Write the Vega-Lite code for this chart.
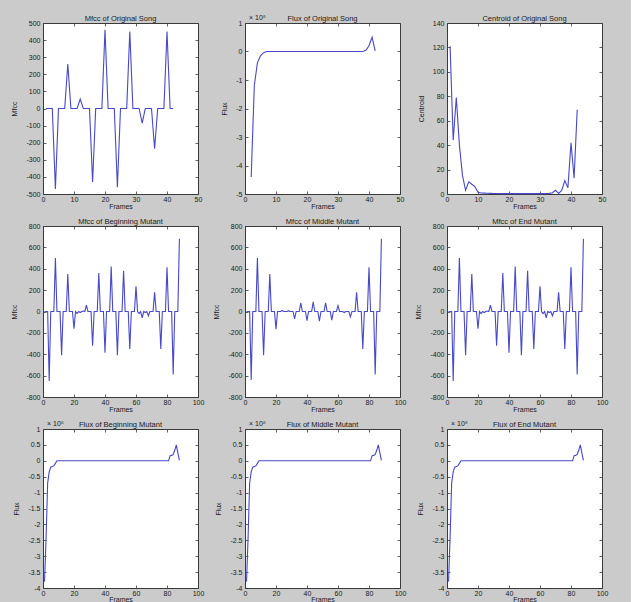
{
  "$schema": "https://vega.github.io/schema/vega-lite/v6.json",
  "background": "#cbcbcb",
  "padding": {"left": 10, "top": 13, "right": 22, "bottom": 0},
  "bounds": "flush",
  "columns": 3,
  "spacing": {"row": 32, "column": 47},
  "datasets": {
    "mfcc_orig": [
      {"f":1,"v":0},{"f":2,"v":0},{"f":3,"v":0},{"f":4,"v":-470},{"f":5,"v":0},{"f":6,"v":0},{"f":7,"v":0},{"f":8,"v":260},{"f":9,"v":0},{"f":10,"v":0},
      {"f":11,"v":0},{"f":12,"v":55},{"f":13,"v":0},{"f":14,"v":0},{"f":15,"v":0},{"f":16,"v":-430},{"f":17,"v":0},{"f":18,"v":0},{"f":19,"v":0},{"f":20,"v":460},
      {"f":21,"v":0},{"f":22,"v":0},{"f":23,"v":0},{"f":24,"v":-460},{"f":25,"v":0},{"f":26,"v":0},{"f":27,"v":0},{"f":28,"v":450},{"f":29,"v":0},{"f":30,"v":0},
      {"f":31,"v":0},{"f":32,"v":-85},{"f":33,"v":0},{"f":34,"v":0},{"f":35,"v":0},{"f":36,"v":-235},{"f":37,"v":0},{"f":38,"v":0},{"f":39,"v":0},{"f":40,"v":450},
      {"f":41,"v":0},{"f":42,"v":0}
    ],
    "flux_orig": [
      {"f":2,"v":-4.4},{"f":3,"v":-1.2},{"f":4,"v":-0.4},{"f":5,"v":-0.15},{"f":6,"v":-0.04},{"f":7,"v":0},{"f":8,"v":0},{"f":9,"v":0},{"f":10,"v":0},
      {"f":11,"v":0},{"f":12,"v":0},{"f":13,"v":0},{"f":14,"v":0},{"f":15,"v":0},{"f":16,"v":0},{"f":17,"v":0},{"f":18,"v":0},{"f":19,"v":0},{"f":20,"v":0},
      {"f":21,"v":0},{"f":22,"v":0},{"f":23,"v":0},{"f":24,"v":0},{"f":25,"v":0},{"f":26,"v":0},{"f":27,"v":0},{"f":28,"v":0},{"f":29,"v":0},{"f":30,"v":0},
      {"f":31,"v":0},{"f":32,"v":0},{"f":33,"v":0},{"f":34,"v":0},{"f":35,"v":0},{"f":36,"v":0},{"f":37,"v":0},{"f":38,"v":0},{"f":39,"v":0.04},{"f":40,"v":0.2},
      {"f":41,"v":0.5},{"f":42,"v":0.02}
    ],
    "cent_orig": [
      {"f":1,"v":121},{"f":2,"v":44},{"f":3,"v":79},{"f":4,"v":40},{"f":5,"v":15},{"f":6,"v":3},{"f":7,"v":10},{"f":8,"v":8},{"f":9,"v":6},{"f":10,"v":1.5},
      {"f":11,"v":0.8},{"f":12,"v":0.7},{"f":13,"v":0.6},{"f":14,"v":0.5},{"f":15,"v":0.4},{"f":16,"v":0.4},{"f":17,"v":0.3},{"f":18,"v":0.3},{"f":19,"v":0.3},{"f":20,"v":0.3},
      {"f":21,"v":0.3},{"f":22,"v":0.3},{"f":23,"v":0.3},{"f":24,"v":0.3},{"f":25,"v":0.3},{"f":26,"v":0.3},{"f":27,"v":0.3},{"f":28,"v":0.3},{"f":29,"v":0.3},{"f":30,"v":0.3},
      {"f":31,"v":0.3},{"f":32,"v":0.4},{"f":33,"v":0.5},{"f":34,"v":1},{"f":35,"v":3},{"f":36,"v":0.5},{"f":37,"v":3},{"f":38,"v":11},{"f":39,"v":5},{"f":40,"v":42},
      {"f":41,"v":13},{"f":42,"v":69}
    ],
    "mfcc_begin": [
      {"f":1,"v":0},{"f":2,"v":0},{"f":3,"v":0},{"f":4,"v":-650},{"f":5,"v":0},{"f":6,"v":0},{"f":7,"v":0},{"f":8,"v":500},{"f":9,"v":0},{"f":10,"v":0},
      {"f":11,"v":0},{"f":12,"v":-410},{"f":13,"v":0},{"f":14,"v":0},{"f":15,"v":0},{"f":16,"v":350},{"f":17,"v":0},{"f":18,"v":0},{"f":19,"v":0},{"f":20,"v":-160},
      {"f":21,"v":0},{"f":22,"v":-20},{"f":23,"v":0},{"f":24,"v":-10},{"f":25,"v":0},{"f":26,"v":5},{"f":27,"v":0},{"f":28,"v":60},{"f":29,"v":0},{"f":30,"v":0},
      {"f":31,"v":0},{"f":32,"v":-320},{"f":33,"v":0},{"f":34,"v":0},{"f":35,"v":0},{"f":36,"v":360},{"f":37,"v":0},{"f":38,"v":0},{"f":39,"v":0},{"f":40,"v":-385},
      {"f":41,"v":0},{"f":42,"v":0},{"f":43,"v":0},{"f":44,"v":420},{"f":45,"v":0},{"f":46,"v":0},{"f":47,"v":0},{"f":48,"v":-410},{"f":49,"v":0},{"f":50,"v":0},
      {"f":51,"v":0},{"f":52,"v":380},{"f":53,"v":0},{"f":54,"v":0},{"f":55,"v":0},{"f":56,"v":-350},{"f":57,"v":0},{"f":58,"v":0},{"f":59,"v":0},{"f":60,"v":235},
      {"f":61,"v":0},{"f":62,"v":-20},{"f":63,"v":0},{"f":64,"v":-60},{"f":65,"v":0},{"f":66,"v":-10},{"f":67,"v":0},{"f":68,"v":-40},{"f":69,"v":0},{"f":70,"v":0},
      {"f":71,"v":0},{"f":72,"v":180},{"f":73,"v":0},{"f":74,"v":0},{"f":75,"v":0},{"f":76,"v":-350},{"f":77,"v":0},{"f":78,"v":0},{"f":79,"v":0},{"f":80,"v":415},
      {"f":81,"v":0},{"f":82,"v":0},{"f":83,"v":0},{"f":84,"v":-590},{"f":85,"v":0},{"f":86,"v":0},{"f":87,"v":0},{"f":88,"v":680}
    ],
    "mfcc_mid": [
      {"f":1,"v":0},{"f":2,"v":0},{"f":3,"v":0},{"f":4,"v":-640},{"f":5,"v":0},{"f":6,"v":0},{"f":7,"v":0},{"f":8,"v":500},{"f":9,"v":0},{"f":10,"v":0},
      {"f":11,"v":0},{"f":12,"v":-410},{"f":13,"v":0},{"f":14,"v":0},{"f":15,"v":0},{"f":16,"v":350},{"f":17,"v":0},{"f":18,"v":0},{"f":19,"v":0},{"f":20,"v":-165},
      {"f":21,"v":0},{"f":22,"v":0},{"f":23,"v":0},{"f":24,"v":10},{"f":25,"v":0},{"f":26,"v":0},{"f":27,"v":0},{"f":28,"v":8},{"f":29,"v":0},{"f":30,"v":0},
      {"f":31,"v":0},{"f":32,"v":-70},{"f":33,"v":0},{"f":34,"v":0},{"f":35,"v":0},{"f":36,"v":80},{"f":37,"v":0},{"f":38,"v":0},{"f":39,"v":0},{"f":40,"v":-85},
      {"f":41,"v":0},{"f":42,"v":0},{"f":43,"v":0},{"f":44,"v":90},{"f":45,"v":0},{"f":46,"v":0},{"f":47,"v":0},{"f":48,"v":-90},{"f":49,"v":0},{"f":50,"v":0},
      {"f":51,"v":0},{"f":52,"v":80},{"f":53,"v":0},{"f":54,"v":0},{"f":55,"v":0},{"f":56,"v":-80},{"f":57,"v":0},{"f":58,"v":0},{"f":59,"v":0},{"f":60,"v":55},
      {"f":61,"v":0},{"f":62,"v":0},{"f":63,"v":0},{"f":64,"v":-10},{"f":65,"v":0},{"f":66,"v":0},{"f":67,"v":0},{"f":68,"v":-50},{"f":69,"v":0},{"f":70,"v":0},
      {"f":71,"v":0},{"f":72,"v":180},{"f":73,"v":0},{"f":74,"v":0},{"f":75,"v":0},{"f":76,"v":-350},{"f":77,"v":0},{"f":78,"v":0},{"f":79,"v":0},{"f":80,"v":415},
      {"f":81,"v":0},{"f":82,"v":0},{"f":83,"v":0},{"f":84,"v":-590},{"f":85,"v":0},{"f":86,"v":0},{"f":87,"v":0},{"f":88,"v":680}
    ],
    "flux_mut": [
      {"f":1,"v":-3.8},{"f":2,"v":-2.4},{"f":3,"v":-0.7},{"f":4,"v":-0.35},{"f":5,"v":-0.2},{"f":6,"v":-0.18},{"f":7,"v":-0.16},{"f":8,"v":-0.08},{"f":9,"v":0},{"f":10,"v":0},
      {"f":11,"v":0},{"f":12,"v":0},{"f":13,"v":0},{"f":14,"v":0},{"f":15,"v":0},{"f":16,"v":0},{"f":17,"v":0},{"f":18,"v":0},{"f":19,"v":0},{"f":20,"v":0},
      {"f":21,"v":0},{"f":22,"v":0},{"f":23,"v":0},{"f":24,"v":0},{"f":25,"v":0},{"f":26,"v":0},{"f":27,"v":0},{"f":28,"v":0},{"f":29,"v":0},{"f":30,"v":0},
      {"f":31,"v":0},{"f":32,"v":0},{"f":33,"v":0},{"f":34,"v":0},{"f":35,"v":0},{"f":36,"v":0},{"f":37,"v":0},{"f":38,"v":0},{"f":39,"v":0},{"f":40,"v":0},
      {"f":41,"v":0},{"f":42,"v":0},{"f":43,"v":0},{"f":44,"v":0},{"f":45,"v":0},{"f":46,"v":0},{"f":47,"v":0},{"f":48,"v":0},{"f":49,"v":0},{"f":50,"v":0},
      {"f":51,"v":0},{"f":52,"v":0},{"f":53,"v":0},{"f":54,"v":0},{"f":55,"v":0},{"f":56,"v":0},{"f":57,"v":0},{"f":58,"v":0},{"f":59,"v":0},{"f":60,"v":0},
      {"f":61,"v":0},{"f":62,"v":0},{"f":63,"v":0},{"f":64,"v":0},{"f":65,"v":0},{"f":66,"v":0},{"f":67,"v":0},{"f":68,"v":0},{"f":69,"v":0},{"f":70,"v":0},
      {"f":71,"v":0},{"f":72,"v":0},{"f":73,"v":0},{"f":74,"v":0},{"f":75,"v":0},{"f":76,"v":0},{"f":77,"v":0},{"f":78,"v":0},{"f":79,"v":0},{"f":80,"v":0},
      {"f":81,"v":0},{"f":82,"v":0.16},{"f":83,"v":0.17},{"f":84,"v":0.2},{"f":85,"v":0.33},{"f":86,"v":0.5},{"f":87,"v":0.25},{"f":88,"v":0.01}
    ],
    "exp_label": [{"t": "× 10⁸"}]
  },
  "concat": [
    {
      "title": {"text": "Mfcc of Original Song", "offset": -3},
      "width": 155, "height": 171,
      "data": {"name": "mfcc_orig"},
      "layer": [
        {"mark": {"type": "line", "color": "#4848c8", "strokeWidth": 1.1},
         "encoding": {
           "x": {"field": "f", "type": "quantitative", "scale": {"domain": [0, 50], "nice": false, "zero": false}, "axis": {"values": [0,10,20,30,40,50], "title": "Frames", "labelExpr": "datum.value + ''"}},
           "y": {"field": "v", "type": "quantitative", "scale": {"domain": [-500, 500], "nice": false}, "axis": {"values": [-500,-400,-300,-200,-100,0,100,200,300,400,500], "title": "Mfcc", "labelExpr": "datum.value + ''"}}}},
        {"mark": {"type": "line", "opacity": 0},
         "encoding": {
           "x": {"field": "f", "type": "quantitative", "axis": {"orient": "top", "values": [0,10,20,30,40,50], "labels": false, "title": null}},
           "y": {"field": "v", "type": "quantitative", "axis": {"orient": "right", "values": [-500,-400,-300,-200,-100,0,100,200,300,400,500], "labels": false, "title": null}}}}
      ],
      "resolve": {"axis": {"x": "independent", "y": "independent"}}
    },
    {
      "title": {"text": "Flux of Original Song", "offset": -8},
      "width": 155, "height": 171,
      "data": {"name": "flux_orig"},
      "layer": [
        {"mark": {"type": "line", "color": "#4848c8", "strokeWidth": 1.1},
         "encoding": {
           "x": {"field": "f", "type": "quantitative", "scale": {"domain": [0, 50], "nice": false, "zero": false}, "axis": {"values": [0,10,20,30,40,50], "title": "Frames", "labelExpr": "datum.value + ''"}},
           "y": {"field": "v", "type": "quantitative", "scale": {"domain": [-5, 1], "nice": false}, "axis": {"values": [-5,-4,-3,-2,-1,0,1], "title": "Flux", "labelExpr": "datum.value + ''"}}}},
        {"mark": {"type": "line", "opacity": 0},
         "encoding": {
           "x": {"field": "f", "type": "quantitative", "axis": {"orient": "top", "values": [0,10,20,30,40,50], "labels": false, "title": null}},
           "y": {"field": "v", "type": "quantitative", "axis": {"orient": "right", "values": [-5,-4,-3,-2,-1,0,1], "labels": false, "title": null}}}},
        {"data": {"name": "exp_label"},
         "mark": {"type": "text", "align": "left", "baseline": "bottom", "dx": 4, "dy": -2, "fontSize": 7, "color": "#1a1a1a"},
         "encoding": {
           "x": {"datum": 0, "type": "quantitative", "axis": null},
           "y": {"datum": 1, "type": "quantitative", "axis": null},
           "text": {"field": "t"}}}
      ],
      "resolve": {"axis": {"x": "independent", "y": "independent"}}
    },
    {
      "title": {"text": "Centroid of Original Song", "offset": -3},
      "width": 155, "height": 171,
      "data": {"name": "cent_orig"},
      "layer": [
        {"mark": {"type": "line", "color": "#4848c8", "strokeWidth": 1.1},
         "encoding": {
           "x": {"field": "f", "type": "quantitative", "scale": {"domain": [0, 50], "nice": false, "zero": false}, "axis": {"values": [0,10,20,30,40,50], "title": "Frames", "labelExpr": "datum.value + ''"}},
           "y": {"field": "v", "type": "quantitative", "scale": {"domain": [0, 140], "nice": false}, "axis": {"values": [0,20,40,60,80,100,120,140], "title": "Centroid", "labelExpr": "datum.value + ''"}}}},
        {"mark": {"type": "line", "opacity": 0},
         "encoding": {
           "x": {"field": "f", "type": "quantitative", "axis": {"orient": "top", "values": [0,10,20,30,40,50], "labels": false, "title": null}},
           "y": {"field": "v", "type": "quantitative", "axis": {"orient": "right", "values": [0,20,40,60,80,100,120,140], "labels": false, "title": null}}}}
      ],
      "resolve": {"axis": {"x": "independent", "y": "independent"}}
    },
    {
      "title": {"text": "Mfcc of Beginning Mutant", "offset": -3},
      "width": 155, "height": 171,
      "data": {"name": "mfcc_begin"},
      "layer": [
        {"mark": {"type": "line", "color": "#4848c8", "strokeWidth": 1.1},
         "encoding": {
           "x": {"field": "f", "type": "quantitative", "scale": {"domain": [0, 100], "nice": false, "zero": false}, "axis": {"values": [0,20,40,60,80,100], "title": "Frames", "labelExpr": "datum.value + ''"}},
           "y": {"field": "v", "type": "quantitative", "scale": {"domain": [-800, 800], "nice": false}, "axis": {"values": [-800,-600,-400,-200,0,200,400,600,800], "title": "Mfcc", "labelExpr": "datum.value + ''"}}}},
        {"mark": {"type": "line", "opacity": 0},
         "encoding": {
           "x": {"field": "f", "type": "quantitative", "axis": {"orient": "top", "values": [0,20,40,60,80,100], "labels": false, "title": null}},
           "y": {"field": "v", "type": "quantitative", "axis": {"orient": "right", "values": [-800,-600,-400,-200,0,200,400,600,800], "labels": false, "title": null}}}}
      ],
      "resolve": {"axis": {"x": "independent", "y": "independent"}}
    },
    {
      "title": {"text": "Mfcc of Middle Mutant", "offset": -3},
      "width": 155, "height": 171,
      "data": {"name": "mfcc_mid"},
      "layer": [
        {"mark": {"type": "line", "color": "#4848c8", "strokeWidth": 1.1},
         "encoding": {
           "x": {"field": "f", "type": "quantitative", "scale": {"domain": [0, 100], "nice": false, "zero": false}, "axis": {"values": [0,20,40,60,80,100], "title": "Frames", "labelExpr": "datum.value + ''"}},
           "y": {"field": "v", "type": "quantitative", "scale": {"domain": [-800, 800], "nice": false}, "axis": {"values": [-800,-600,-400,-200,0,200,400,600,800], "title": "Mfcc", "labelExpr": "datum.value + ''"}}}},
        {"mark": {"type": "line", "opacity": 0},
         "encoding": {
           "x": {"field": "f", "type": "quantitative", "axis": {"orient": "top", "values": [0,20,40,60,80,100], "labels": false, "title": null}},
           "y": {"field": "v", "type": "quantitative", "axis": {"orient": "right", "values": [-800,-600,-400,-200,0,200,400,600,800], "labels": false, "title": null}}}}
      ],
      "resolve": {"axis": {"x": "independent", "y": "independent"}}
    },
    {
      "title": {"text": "Mfcc of End Mutant", "offset": -3},
      "width": 155, "height": 171,
      "data": {"name": "mfcc_begin"},
      "layer": [
        {"mark": {"type": "line", "color": "#4848c8", "strokeWidth": 1.1},
         "encoding": {
           "x": {"field": "f", "type": "quantitative", "scale": {"domain": [0, 100], "nice": false, "zero": false}, "axis": {"values": [0,20,40,60,80,100], "title": "Frames", "labelExpr": "datum.value + ''"}},
           "y": {"field": "v", "type": "quantitative", "scale": {"domain": [-800, 800], "nice": false}, "axis": {"values": [-800,-600,-400,-200,0,200,400,600,800], "title": "Mfcc", "labelExpr": "datum.value + ''"}}}},
        {"mark": {"type": "line", "opacity": 0},
         "encoding": {
           "x": {"field": "f", "type": "quantitative", "axis": {"orient": "top", "values": [0,20,40,60,80,100], "labels": false, "title": null}},
           "y": {"field": "v", "type": "quantitative", "axis": {"orient": "right", "values": [-800,-600,-400,-200,0,200,400,600,800], "labels": false, "title": null}}}}
      ],
      "resolve": {"axis": {"x": "independent", "y": "independent"}}
    },
    {
      "title": {"text": "Flux of Beginning Mutant", "offset": -8},
      "width": 155, "height": 159,
      "data": {"name": "flux_mut"},
      "layer": [
        {"mark": {"type": "line", "color": "#4848c8", "strokeWidth": 1.1},
         "encoding": {
           "x": {"field": "f", "type": "quantitative", "scale": {"domain": [0, 100], "nice": false, "zero": false}, "axis": {"values": [0,20,40,60,80,100], "title": "Frames", "titlePadding": -1, "labelExpr": "datum.value + ''"}},
           "y": {"field": "v", "type": "quantitative", "scale": {"domain": [-4, 1], "nice": false}, "axis": {"values": [-4,-3.5,-3,-2.5,-2,-1.5,-1,-0.5,0,0.5,1], "title": "Flux", "labelExpr": "datum.value + ''"}}}},
        {"mark": {"type": "line", "opacity": 0},
         "encoding": {
           "x": {"field": "f", "type": "quantitative", "axis": {"orient": "top", "values": [0,20,40,60,80,100], "labels": false, "title": null}},
           "y": {"field": "v", "type": "quantitative", "axis": {"orient": "right", "values": [-4,-3.5,-3,-2.5,-2,-1.5,-1,-0.5,0,0.5,1], "labels": false, "title": null}}}},
        {"data": {"name": "exp_label"},
         "mark": {"type": "text", "align": "left", "baseline": "bottom", "dx": 4, "dy": -2, "fontSize": 7, "color": "#1a1a1a"},
         "encoding": {
           "x": {"datum": 0, "type": "quantitative", "axis": null},
           "y": {"datum": 1, "type": "quantitative", "axis": null},
           "text": {"field": "t"}}}
      ],
      "resolve": {"axis": {"x": "independent", "y": "independent"}}
    },
    {
      "title": {"text": "Flux of Middle Mutant", "offset": -8},
      "width": 155, "height": 159,
      "data": {"name": "flux_mut"},
      "layer": [
        {"mark": {"type": "line", "color": "#4848c8", "strokeWidth": 1.1},
         "encoding": {
           "x": {"field": "f", "type": "quantitative", "scale": {"domain": [0, 100], "nice": false, "zero": false}, "axis": {"values": [0,20,40,60,80,100], "title": "Frames", "titlePadding": -1, "labelExpr": "datum.value + ''"}},
           "y": {"field": "v", "type": "quantitative", "scale": {"domain": [-4, 1], "nice": false}, "axis": {"values": [-4,-3.5,-3,-2.5,-2,-1.5,-1,-0.5,0,0.5,1], "title": "Flux", "labelExpr": "datum.value + ''"}}}},
        {"mark": {"type": "line", "opacity": 0},
         "encoding": {
           "x": {"field": "f", "type": "quantitative", "axis": {"orient": "top", "values": [0,20,40,60,80,100], "labels": false, "title": null}},
           "y": {"field": "v", "type": "quantitative", "axis": {"orient": "right", "values": [-4,-3.5,-3,-2.5,-2,-1.5,-1,-0.5,0,0.5,1], "labels": false, "title": null}}}},
        {"data": {"name": "exp_label"},
         "mark": {"type": "text", "align": "left", "baseline": "bottom", "dx": 4, "dy": -2, "fontSize": 7, "color": "#1a1a1a"},
         "encoding": {
           "x": {"datum": 0, "type": "quantitative", "axis": null},
           "y": {"datum": 1, "type": "quantitative", "axis": null},
           "text": {"field": "t"}}}
      ],
      "resolve": {"axis": {"x": "independent", "y": "independent"}}
    },
    {
      "title": {"text": "Flux of End Mutant", "offset": -8},
      "width": 155, "height": 159,
      "data": {"name": "flux_mut"},
      "layer": [
        {"mark": {"type": "line", "color": "#4848c8", "strokeWidth": 1.1},
         "encoding": {
           "x": {"field": "f", "type": "quantitative", "scale": {"domain": [0, 100], "nice": false, "zero": false}, "axis": {"values": [0,20,40,60,80,100], "title": "Frames", "titlePadding": -1, "labelExpr": "datum.value + ''"}},
           "y": {"field": "v", "type": "quantitative", "scale": {"domain": [-4, 1], "nice": false}, "axis": {"values": [-4,-3.5,-3,-2.5,-2,-1.5,-1,-0.5,0,0.5,1], "title": "Flux", "labelExpr": "datum.value + ''"}}}},
        {"mark": {"type": "line", "opacity": 0},
         "encoding": {
           "x": {"field": "f", "type": "quantitative", "axis": {"orient": "top", "values": [0,20,40,60,80,100], "labels": false, "title": null}},
           "y": {"field": "v", "type": "quantitative", "axis": {"orient": "right", "values": [-4,-3.5,-3,-2.5,-2,-1.5,-1,-0.5,0,0.5,1], "labels": false, "title": null}}}},
        {"data": {"name": "exp_label"},
         "mark": {"type": "text", "align": "left", "baseline": "bottom", "dx": 4, "dy": -2, "fontSize": 7, "color": "#1a1a1a"},
         "encoding": {
           "x": {"datum": 0, "type": "quantitative", "axis": null},
           "y": {"datum": 1, "type": "quantitative", "axis": null},
           "text": {"field": "t"}}}
      ],
      "resolve": {"axis": {"x": "independent", "y": "independent"}}
    }
  ],
  "config": {
    "font": "Liberation Sans",
    "view": {"fill": "white", "stroke": "#3a3a3a", "strokeWidth": 1},
    "axis": {
      "grid": false, "domain": false, "tickSize": -3, "tickColor": "#3a3a3a", "tickWidth": 0.8,
      "labelFontSize": 7, "labelColor": "#1a1a1a", "labelPadding": 4, "labelFont": "Liberation Sans",
      "labelFlush": false, "labelOverlap": false, "labelBound": false,
      "titleFontSize": 7, "titleFontWeight": "normal", "titleColor": "#1a1a1a", "titlePadding": 0, "titleFont": "Liberation Sans"
    },
    "axisY": {"titlePadding": 8, "labelPadding": 6},
    "title": {"fontSize": 7.5, "fontWeight": "normal", "color": "#1a1a1a", "font": "Liberation Sans"}
  }
}
